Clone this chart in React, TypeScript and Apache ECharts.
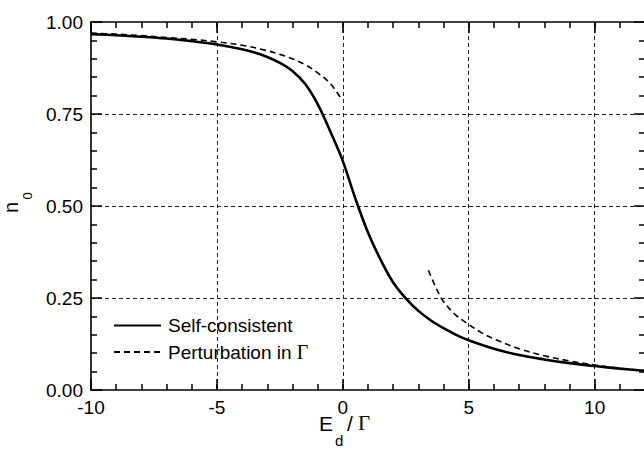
import React, { useEffect, useRef } from "react";
import * as echarts from "echarts";

// Self-consistent solution
const scX = [-10, -9, -8, -7, -6, -5, -4, -3.5, -3, -2.5, -2, -1.5, -1, -0.5, 0, 0.5, 1, 1.5, 2, 2.5, 3, 3.5, 4, 4.5, 5, 6, 7, 8, 9, 10, 11, 12];
const scY = [0.967, 0.964, 0.960, 0.955, 0.948, 0.939, 0.926, 0.917, 0.905, 0.889, 0.867, 0.832, 0.777, 0.703, 0.622, 0.520, 0.428, 0.354, 0.292, 0.249, 0.215, 0.189, 0.168, 0.150, 0.135, 0.112, 0.095, 0.083, 0.073, 0.065, 0.058, 0.052];

// Perturbation in Gamma, E_d < 0 branch
const ptLeftX = [-10, -9, -8, -7, -6, -5, -4, -3, -2.5, -2, -1.5, -1, -0.5, -0.1];
const ptLeftY = [0.970, 0.967, 0.963, 0.958, 0.953, 0.946, 0.937, 0.922, 0.912, 0.900, 0.884, 0.862, 0.833, 0.795];

// Perturbation in Gamma, E_d > 0 branch
const ptRightX = [3.4, 3.7, 4, 4.5, 5, 5.5, 6, 7, 8, 9, 10, 11, 12];
const ptRightY = [0.325, 0.278, 0.240, 0.203, 0.178, 0.156, 0.139, 0.112, 0.093, 0.079, 0.068, 0.059, 0.052];

const seriesNames = ["Self-consistent", "Perturbation in Γ"];

const X_MIN = -10;
const X_MAX = 12;
const X_STEP = 5;
const X_MINOR = 1;
const Y_MIN = 0;
const Y_MAX = 1;
const Y_STEP = 0.25;

const FONT = "Liberation Sans, Arial, Helvetica, sans-serif";
const SERIF = "Liberation Serif, Times New Roman, serif";

const pairs = (xs: number[], ys: number[]) => xs.map((x, i) => [x, ys[i]]);

export default function App() {
  const ref = useRef<HTMLDivElement>(null);

  useEffect(() => {
    if (!ref.current) return;
    const chart = echarts.init(ref.current, undefined, { renderer: "svg" });

    const tickLine = { color: "#000", width: 1.5 };
    const mainX = (pos: "bottom" | "top", labels: boolean) => ({
      type: "value",
      min: X_MIN,
      max: X_MAX,
      interval: X_STEP,
      position: pos,
      axisLine: { show: true, onZero: false, lineStyle: { color: "#000", width: 1.6 } },
      axisTick: { show: true, inside: true, length: 11, lineStyle: tickLine },
      minorTick: { show: false },
      splitLine: labels
        ? { show: true, showMinLine: false, showMaxLine: false, lineStyle: { color: "#222", width: 1, type: [4, 3] } }
        : { show: false },
      axisLabel: labels
        ? { show: true, showMaxLabel: false, color: "#000", fontSize: 19, fontFamily: FONT, margin: 8, formatter: (v: number) => String(v) }
        : { show: false },
    });
    const minorX = (pos: "bottom" | "top") => ({
      type: "value",
      min: X_MIN,
      max: X_MAX,
      interval: X_MINOR,
      position: pos,
      axisLine: { show: false, onZero: false },
      axisTick: { show: true, inside: true, length: 6, lineStyle: tickLine },
      splitLine: { show: false },
      axisLabel: { show: false },
    });
    const mainY = (pos: "left" | "right", labels: boolean) => ({
      type: "value",
      min: Y_MIN,
      max: Y_MAX,
      interval: Y_STEP,
      position: pos,
      axisLine: { show: true, onZero: false, lineStyle: { color: "#000", width: 1.6 } },
      axisTick: { show: true, inside: true, length: 11, lineStyle: tickLine },
      minorTick: { show: true, splitNumber: 5, length: 6, lineStyle: tickLine },
      splitLine: labels
        ? { show: true, showMinLine: false, showMaxLine: false, lineStyle: { color: "#222", width: 1, type: [4, 3] } }
        : { show: false },
      axisLabel: labels
        ? { show: true, color: "#000", fontSize: 19, fontFamily: FONT, margin: 8, formatter: (v: number) => v.toFixed(2) }
        : { show: false },
    });

    chart.setOption({
      animation: false,
      backgroundColor: "#fff",
      grid: { left: 91, top: 22, width: 554, height: 368, outerBoundsMode: "none", containLabel: false },
      xAxis: [mainX("bottom", true), mainX("top", false), minorX("bottom"), minorX("top")],
      yAxis: [mainY("left", true), mainY("right", false)],
      legend: {
        show: true,
        orient: "vertical",
        left: 113,
        top: 316,
        padding: 0,
        itemWidth: 47,
        itemHeight: 20,
        itemGap: 7,
        data: seriesNames,
        itemStyle: { opacity: 0, borderWidth: 0 },
        textStyle: {
          color: "#000",
          fontSize: 19,
          fontFamily: FONT,
          rich: {
            t: { color: "#000", fontSize: 19, fontFamily: FONT, padding: [0, 0, 0, 2] },
            g: { color: "#000", fontSize: 20, fontFamily: SERIF },
          },
        },
        formatter: (name: string) =>
          name === seriesNames[1] ? "{t|Perturbation in }{g|Γ}" : "{t|" + name + "}",
      },
      graphic: [
        { type: "text", x: 319, y: 423, style: { text: "E", font: `21px ${FONT}`, fill: "#000", textAlign: "left", textVerticalAlign: "middle" } },
        { type: "text", x: 335, y: 440, style: { text: "d", font: `15px ${FONT}`, fill: "#000", textAlign: "left", textVerticalAlign: "middle" } },
        { type: "text", x: 347, y: 423, style: { text: "/", font: `21px ${FONT}`, fill: "#000", textAlign: "left", textVerticalAlign: "middle" } },
        { type: "text", x: 358, y: 423, style: { text: "Γ", font: `21px ${SERIF}`, fill: "#000", textAlign: "left", textVerticalAlign: "middle" } },
        { type: "text", x: 10.5, y: 207.5, rotation: Math.PI / 2, style: { text: "n", font: `20px ${FONT}`, fill: "#000", textAlign: "center", textVerticalAlign: "middle" } },
        { type: "text", x: 27, y: 196, rotation: Math.PI / 2, style: { text: "0", font: `13px ${FONT}`, fill: "#000", textAlign: "center", textVerticalAlign: "middle" } },
      ],
      series: [
        {
          type: "line",
          name: seriesNames[0],
          xAxisIndex: 0,
          yAxisIndex: 0,
          data: pairs(scX, scY),
          symbol: "none",
          smooth: 0.35,
          lineStyle: { color: "#000", width: 2.6 },
          itemStyle: { color: "#000" },
          z: 3,
        },
        {
          type: "line",
          name: seriesNames[1],
          xAxisIndex: 0,
          yAxisIndex: 0,
          data: pairs(ptLeftX, ptLeftY),
          symbol: "none",
          smooth: 0.35,
          lineStyle: { color: "#000", width: 1.6, type: [6, 4] },
          itemStyle: { color: "#000" },
          z: 2,
        },
        {
          type: "line",
          name: seriesNames[1],
          xAxisIndex: 0,
          yAxisIndex: 0,
          data: pairs(ptRightX, ptRightY),
          symbol: "none",
          smooth: 0.35,
          lineStyle: { color: "#000", width: 1.6, type: [6, 4] },
          itemStyle: { color: "#000" },
          z: 2,
        },
      ],
    });

    return () => chart.dispose();
  }, []);

  return (
    <div
      ref={ref}
      style={{ position: "fixed", left: 0, top: 0, width: 644, height: 455, background: "#fff" }}
    />
  );
}
